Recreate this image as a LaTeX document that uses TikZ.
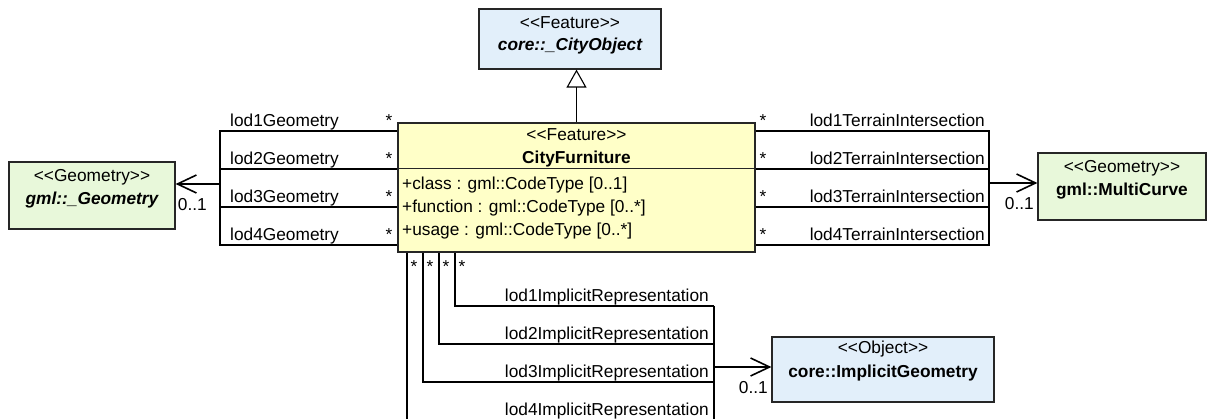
\documentclass[tikz,border=0pt]{standalone}
\usepackage{fontspec}
\setmainfont{Liberation Sans}
\usetikzlibrary{arrows.meta}
\definecolor{blueF}{RGB}{226,239,250}
\definecolor{greenF}{RGB}{232,248,218}
\definecolor{yellowF}{RGB}{255,255,200}
\newcommand\stereo[1]{<{}<#1>{}>}
\begin{document}
\begin{tikzpicture}[x=1pt,y=-1pt,
  font=\fontsize{17.3}{20}\selectfont,
  box/.style={draw=black!85, line width=1.2pt, inner sep=0pt},
  conn/.style={line width=1.1pt},
  txt/.style={inner sep=0pt},
  assoc/.style={line width=1.6pt, -{Straight Barb[length=19pt,width=18pt]}},
  gen/.style={line width=1.1pt, -{Triangle[open,length=18pt,width=20pt]}},
]
\useasboundingbox (0,0) rectangle (1208,419);

% boxes
\node[box, fill=blueF, minimum width=182pt, minimum height=60pt] (cityobj) at (570,39) {};
\node[box, fill=yellowF, minimum width=357pt, minimum height=129pt] (cf) at (576.5,187.5) {};
\node[box, fill=greenF, minimum width=166pt, minimum height=67pt] (geom) at (92,195.5) {};
\node[box, fill=greenF, minimum width=168pt, minimum height=67pt] (mc) at (1122,186.5) {};
\node[box, fill=blueF, minimum width=222pt, minimum height=65pt] (ig) at (883,369.5) {};
\draw[line width=1.2pt, draw=black!85] ([yshift=-46pt]cf.north west) -- ([yshift=-46pt]cf.north east);

% box texts
\node[txt, anchor=base] (cityobj-st) at (570,29) {\stereo{Feature}};
\node[txt, anchor=base] (cityobj-nm) at (570,51) {\bfseries\itshape core::\_CityObject};
\node[txt, anchor=base] (cf-st) at (576.5,141) {\stereo{Feature}};
\node[txt, anchor=base] (cf-nm) at (576.5,164) {\bfseries CityFurniture};
\node[txt, anchor=base west] (cf-a1) at (402,190) {+class : gml::CodeType [0..1]};
\node[txt, anchor=base west] (cf-a2) at (402,213) {+function : gml::CodeType [0..*]};
\node[txt, anchor=base west] (cf-a3) at (402,236) {+usage : gml::CodeType [0..*]};
\node[txt, anchor=base] (geom-st) at (92,182) {\stereo{Geometry}};
\node[txt, anchor=base] (geom-nm) at (92,205) {\bfseries\itshape gml::\_Geometry};
\node[txt, anchor=base] (mc-st) at (1122,173) {\stereo{Geometry}};
\node[txt, anchor=base] (mc-nm) at (1122,196) {\bfseries gml::MultiCurve};
\node[txt, anchor=base] (ig-st) at (883,354) {\stereo{Object}};
\node[txt, anchor=base] (ig-nm) at (883,378) {\bfseries core::ImplicitGeometry};

% generalization
\draw[gen] (cf.north) -- (cf.north |- cityobj.south);

% left associations
\coordinate (jl1) at (220,131);
\coordinate (jl2) at (220,169);
\coordinate (jl3) at (220,207);
\coordinate (jl4) at (220,245);
\coordinate (jlm) at (220,184);
\draw[conn] (jl1 -| cf.west) -- (jl1) -- (jl4) -- (jl4 -| cf.west);
\draw[conn] (jl2 -| cf.west) -- (jl2);
\draw[conn] (jl3 -| cf.west) -- (jl3);
\draw[assoc] (jlm) -- (jlm -| geom.east);
\foreach \i/\y in {1/127,2/165,3/203,4/241}{
  \node[txt, anchor=base west] (lg\i) at (230,\y) {lod\i Geometry};
  \node[txt, anchor=base] (lgs\i) at (389,\y) {*};
}
\node[txt, anchor=base east] (lgm) at (207,211) {0..1};

% right associations
\coordinate (jr1) at (989,131);
\coordinate (jr2) at (989,169);
\coordinate (jr3) at (989,207);
\coordinate (jr4) at (989,245);
\coordinate (jrm) at (989,183);
\draw[conn] (jr1 -| cf.east) -- (jr1) -- (jr4) -- (jr4 -| cf.east);
\draw[conn] (jr2 -| cf.east) -- (jr2);
\draw[conn] (jr3 -| cf.east) -- (jr3);
\draw[assoc] (jrm) -- (jrm -| mc.west);
\foreach \i/\y in {1/127,2/165,3/203,4/241}{
  \node[txt, anchor=base east] (lt\i) at (985,\y) {lod\i TerrainIntersection};
  \node[txt, anchor=base] (lts\i) at (763,\y) {*};
}
\node[txt, anchor=base east] (ltm) at (1034,210) {0..1};

% bottom associations
\coordinate (jb1) at (714,306);
\coordinate (jb2) at (714,344);
\coordinate (jb3) at (714,382);
\coordinate (jb4) at (714,420);
\coordinate (jbm) at (714,367);
\draw[conn] (cf.south -| 455,0) |- (jb1);
\draw[conn] (cf.south -| 439,0) |- (jb2);
\draw[conn] (cf.south -| 423,0) |- (jb3);
\draw[conn] (cf.south -| 407,0) |- (jb4);
\draw[conn] (jb1) -- (jb4);
\draw[assoc] (jbm) -- (jbm -| ig.west);
\foreach \i/\y in {1/302,2/340,3/378,4/416}{
  \node[txt, anchor=base east] (li\i) at (709,\y) {lod\i ImplicitRepresentation};
}
\foreach \i/\x in {1/462,2/446,3/430,4/414}{
  \node[txt, anchor=base] (lis\i) at (\x,273) {*};
}
\node[txt, anchor=base east] (lim) at (768,394) {0..1};
\end{tikzpicture}
\end{document}
